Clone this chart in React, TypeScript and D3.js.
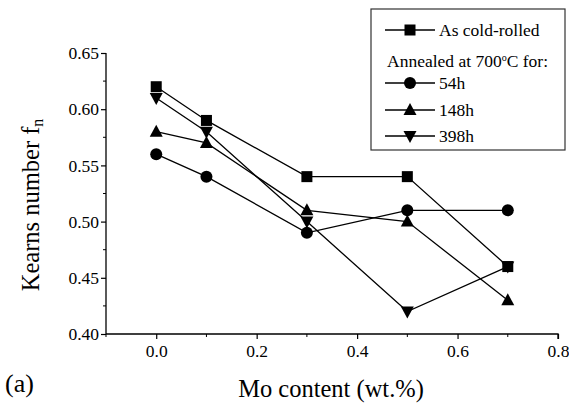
import React, { useEffect, useRef } from "react";
import * as d3 from "d3";

// Mo content (wt.%)
const moContent = [0.0, 0.1, 0.3, 0.5, 0.7];

const seriesNames = ["As cold-rolled", "54h", "148h", "398h"];
const coldRolled = [0.62, 0.59, 0.54, 0.54, 0.46];
const annealed54h = [0.56, 0.54, 0.49, 0.51, 0.51];
const annealed148h = [0.58, 0.57, 0.51, 0.5, 0.43];
const annealed398h = [0.61, 0.58, 0.5, 0.42, 0.46];

const xTicks = [0.0, 0.2, 0.4, 0.6, 0.8];
const yTicks = [0.4, 0.45, 0.5, 0.55, 0.6, 0.65];

const FONT = "Liberation Serif";

const App = () => {
  const ref = useRef<SVGSVGElement | null>(null);

  useEffect(() => {
    const svg = d3.select(ref.current);
    svg.selectAll("*").remove();

    const x = d3.scaleLinear().domain([-0.1, 0.8]).range([106, 558]);
    const y = d3.scaleLinear().domain([0.4, 0.65]).range([334, 53]);

    const series = [
      { name: seriesNames[0], values: coldRolled, symbol: "square" },
      { name: seriesNames[1], values: annealed54h, symbol: "circle" },
      { name: seriesNames[2], values: annealed148h, symbol: "up" },
      { name: seriesNames[3], values: annealed398h, symbol: "down" },
    ];

    const drawMarker = (g: any, cx: number, cy: number, symbol: string) => {
      if (symbol === "square") {
        g.append("rect")
          .attr("x", cx - 5.5)
          .attr("y", cy - 5.5)
          .attr("width", 11)
          .attr("height", 11)
          .attr("fill", "#000");
      } else if (symbol === "circle") {
        g.append("circle").attr("cx", cx).attr("cy", cy).attr("r", 6).attr("fill", "#000");
      } else if (symbol === "up") {
        g.append("path")
          .attr("d", `M${cx},${cy - 7}L${cx + 6.5},${cy + 5}L${cx - 6.5},${cy + 5}Z`)
          .attr("fill", "#000");
      } else {
        g.append("path")
          .attr("d", `M${cx},${cy + 7}L${cx + 6.5},${cy - 5}L${cx - 6.5},${cy - 5}Z`)
          .attr("fill", "#000");
      }
    };

    // Axes
    const xAxis = svg.append("g").attr("transform", `translate(0,${y(0.4)})`);
    xAxis
      .call(d3.axisBottom(x).tickValues(xTicks).tickSize(5).tickFormat(d3.format(".1f")) as any)
      .call((g: any) => g.select(".domain").attr("stroke-width", 1.3).attr("d", `M${x(-0.1)},0V0H${x(0.8)}V5`));
    xAxis.attr("font-family", FONT).attr("font-size", 17.5);
    xAxis.selectAll(".tick text").attr("dy", "0.85em");
    xAxis
      .selectAll(".minor")
      .data([-0.1, 0.1, 0.3, 0.5, 0.7])
      .enter()
      .append("line")
      .attr("x1", (d: number) => x(d))
      .attr("x2", (d: number) => x(d))
      .attr("y1", 0)
      .attr("y2", 3)
      .attr("stroke", "#000");

    const yAxis = svg.append("g").attr("transform", `translate(${x(-0.1)},0)`);
    yAxis
      .call(d3.axisLeft(y).tickValues(yTicks).tickSize(5).tickFormat(d3.format(".2f")) as any)
      .call((g: any) => g.select(".domain").attr("stroke-width", 1.3).attr("d", `M0,${y(0.65)}V${y(0.4)}`));
    yAxis.attr("font-family", FONT).attr("font-size", 17.5);
    yAxis.selectAll(".tick text").attr("x", -7);
    yAxis
      .selectAll(".minor")
      .data([0.425, 0.475, 0.525, 0.575, 0.625])
      .enter()
      .append("line")
      .attr("x1", 0)
      .attr("x2", -3)
      .attr("y1", (d: number) => y(d))
      .attr("y2", (d: number) => y(d))
      .attr("stroke", "#000");
    svg.selectAll(".tick line").attr("stroke-width", 1.2);

    // Lines and markers
    const line = d3
      .line<number>()
      .x((_, i) => x(moContent[i]))
      .y((d) => y(d));

    series.forEach((s) => {
      svg
        .append("path")
        .datum(s.values)
        .attr("fill", "none")
        .attr("stroke", "#000")
        .attr("stroke-width", 1.3)
        .attr("d", line);
      const g = svg.append("g");
      s.values.forEach((v, i) => drawMarker(g, x(moContent[i]), y(v), s.symbol));
    });

    // Legend
    const legend = svg.append("g").attr("font-family", FONT).attr("font-size", 17.5);
    legend
      .append("rect")
      .attr("x", 371)
      .attr("y", 9)
      .attr("width", 194)
      .attr("height", 141)
      .attr("fill", "#fff")
      .attr("stroke", "#333")
      .attr("stroke-width", 1.2);

    const rows = [
      { s: series[0], y: 30 },
      { s: series[1], y: 83 },
      { s: series[2], y: 110 },
      { s: series[3], y: 136 },
    ];
    rows.forEach((r) => {
      legend
        .append("line")
        .attr("x1", 385)
        .attr("x2", 435)
        .attr("y1", r.y)
        .attr("y2", r.y)
        .attr("stroke", "#000")
        .attr("stroke-width", 1.3);
      drawMarker(legend, 410, r.y, r.s.symbol);
      legend
        .append("text")
        .attr("x", 439)
        .attr("y", r.y + 6)
        .text(r.s.name);
    });
    const ann = legend.append("text").attr("x", 387).attr("y", 67);
    ann.append("tspan").text("Annealed at 700");
    ann.append("tspan").attr("dy", -6).attr("font-size", 10).text("o");
    ann.append("tspan").attr("dy", 6).text("C for:");

    // Axis titles
    const yl = svg
      .append("text")
      .attr("transform", `translate(39,205) rotate(-90)`)
      .attr("text-anchor", "middle")
      .attr("font-family", FONT)
      .attr("font-size", 24.5);
    yl.append("tspan").text("Kearns number f");
    yl.append("tspan").attr("font-size", 16).attr("dy", 4).text("n");

    svg
      .append("text")
      .attr("x", 331)
      .attr("y", 397)
      .attr("text-anchor", "middle")
      .attr("font-family", FONT)
      .attr("font-size", 24.5)
      .text("Mo content (wt.%)");

    svg
      .append("text")
      .attr("x", 5)
      .attr("y", 392)
      .attr("font-family", FONT)
      .attr("font-size", 26)
      .text("(a)");
  }, []);

  return (
    <svg
      ref={ref}
      width={569}
      height={404}
      style={{ position: "absolute", left: 0, top: 0, background: "#fff" }}
    />
  );
};

export default App;
